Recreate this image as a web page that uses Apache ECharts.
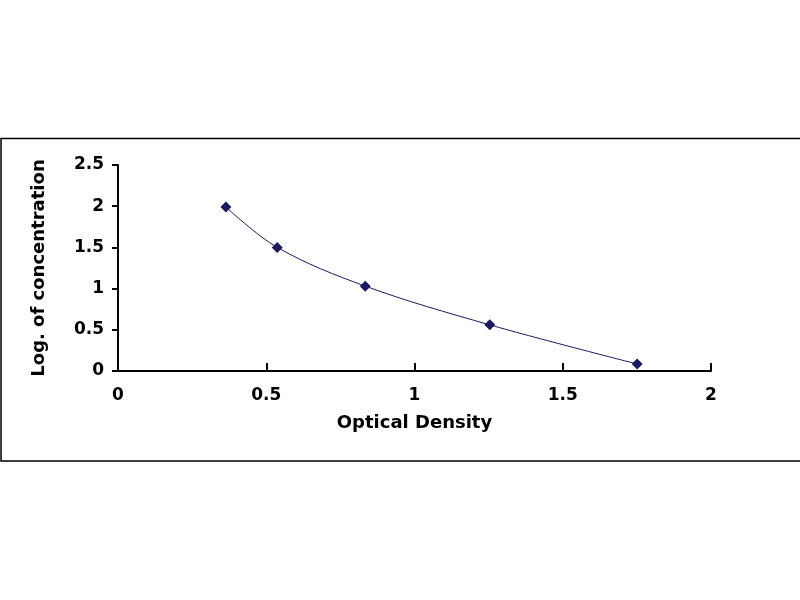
<!DOCTYPE html>
<html>
<head>
<meta charset="utf-8">
<script src="https://cdn.jsdelivr.net/npm/echarts@6/dist/echarts.min.js"></script>
<style>
html, body { margin: 0; padding: 0; background: #fff; }
#chart { width: 800px; height: 600px; }
</style>
</head>
<body>
<div id="chart"></div>
<script>
// standard curve: optical density vs log of concentration
const od = [0.364, 0.537, 0.834, 1.254, 1.751];
const logConc = [1.99, 1.50, 1.03, 0.56, 0.085];
const xTitle = 'Optical Density';
const yTitle = 'Log. of concentration';

const points = od.map((v, i) => [v, logConc[i]]);
const font = 'DejaVu Sans, Verdana, sans-serif';

const chart = echarts.init(document.getElementById('chart'));
chart.setOption({
    animation: false,
    grid: { left: 118, right: 89, top: 165, bottom: 229 },
    graphic: [{
        type: 'rect',
        shape: { x: 1, y: 138.5, width: 810, height: 322.5 },
        style: { fill: null, stroke: '#000', lineWidth: 1.5 },
        silent: true
    }],
    xAxis: {
        type: 'value',
        min: 0, max: 2, interval: 0.5,
        name: xTitle,
        nameLocation: 'middle',
        nameGap: 43,
        nameTextStyle: { fontFamily: font, fontWeight: 'bold', fontSize: 18, color: '#000' },
        axisLine: { lineStyle: { color: '#000', width: 2 } },
        axisTick: { inside: true, length: 8, lineStyle: { color: '#000', width: 2 } },
        axisLabel: { margin: 16, fontFamily: font, fontWeight: 'bold', fontSize: 17, color: '#000' },
        splitLine: { show: false }
    },
    yAxis: {
        type: 'value',
        min: 0, max: 2.5, interval: 0.5,
        name: yTitle,
        nameLocation: 'middle',
        nameGap: 70,
        nameTextStyle: { fontFamily: font, fontWeight: 'bold', fontSize: 18, color: '#000' },
        axisLine: { lineStyle: { color: '#000', width: 2 } },
        axisTick: { length: 6, lineStyle: { color: '#000', width: 2 } },
        axisLabel: { margin: 14, fontFamily: font, fontWeight: 'bold', fontSize: 17, color: '#000' },
        splitLine: { show: false }
    },
    series: [{
        type: 'line',
        data: points,
        smooth: 0.35,
        symbol: 'diamond',
        symbolSize: 11,
        itemStyle: { color: '#1a1a5e' },
        lineStyle: { color: '#1a1a5e', width: 1 }
    }]
});
</script>
</body>
</html>
